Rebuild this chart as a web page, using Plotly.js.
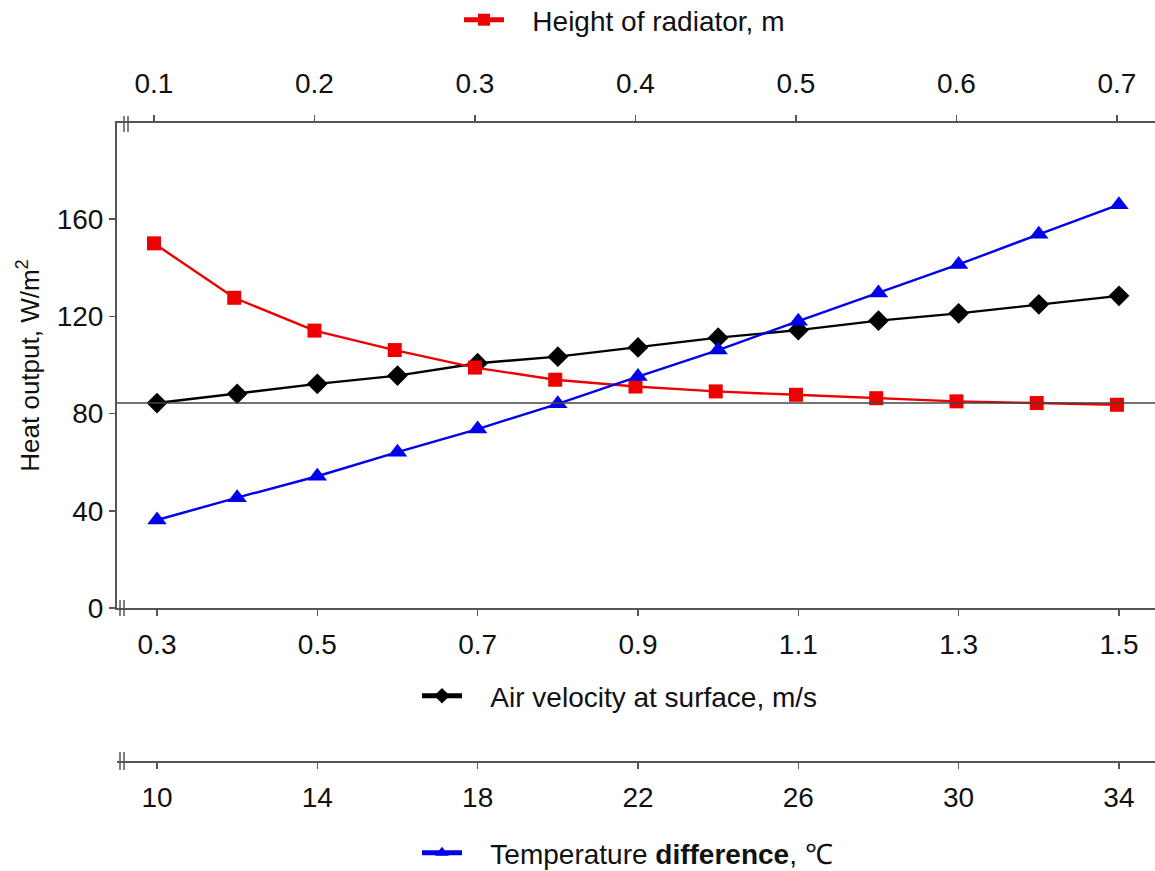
<!DOCTYPE html>
<html>
<head>
<meta charset="utf-8">
<script src="https://cdn.plot.ly/plotly-3.0.1.min.js"></script>
<style>html,body{margin:0;padding:0;background:#fff;}#chart{width:1155px;height:871px;}</style>
</head>
<body>
<div id="chart"></div>
<script>
// Height of radiator, m (top axis)
const heightX = [0.1, 0.15, 0.2, 0.25, 0.3, 0.35, 0.4, 0.45, 0.5, 0.55, 0.6, 0.65, 0.7];
const heightY = [150, 127.6, 114.1, 106.1, 98.9, 93.9, 91.1, 89.1, 87.7, 86.3, 85.0, 84.3, 83.6];
// Air velocity at surface, m/s (bottom axis)
const velocityX = [0.3, 0.4, 0.5, 0.6, 0.7, 0.8, 0.9, 1.0, 1.1, 1.2, 1.3, 1.4, 1.5];
const velocityY = [84.3, 88.1, 92.2, 95.6, 100.7, 103.4, 107.2, 111.2, 114.3, 118.2, 121.2, 124.9, 128.4];
// Temperature difference, C (third axis)
const tempX = [10, 12, 14, 16, 18, 20, 22, 24, 26, 28, 30, 32, 34];
const tempY = [36.2, 45.4, 54.2, 64.1, 73.6, 84.0, 95.2, 106.1, 118.0, 129.6, 141.3, 153.7, 165.9];
// Reference level line
const refLevel = 84.3;

const velocityTicks = [0.3, 0.5, 0.7, 0.9, 1.1, 1.3, 1.5];
const heightTicks = [0.1, 0.2, 0.3, 0.4, 0.5, 0.6, 0.7];
const tempTicks = [10, 14, 18, 22, 26, 30, 34];
const yTicks = [0, 40, 80, 120, 160];

const FONT = 'Liberation Sans, Arial, sans-serif';
const TXT = '#111';
const AX = '#555';
const FS = 28;
const PAD = '\u00A0\u00A0\u00A0';

const traces = [
  {x: velocityX, y: velocityY, xaxis: 'x', yaxis: 'y', mode: 'lines+markers',
   name: PAD + 'Air velocity at surface, m/s', legend: 'legend2',
   line: {color: '#000', width: 2.4}, marker: {symbol: 'diamond', size: 16, color: '#000'}},
  {x: tempX, y: tempY, xaxis: 'x3', yaxis: 'y', mode: 'lines+markers',
   name: PAD + 'Temperature <b>difference</b>, ℃', legend: 'legend3',
   line: {color: '#0000ee', width: 2.4}, marker: {symbol: 'triangle-up', size: 17, color: '#0000ee'}},
  {x: heightX, y: heightY, xaxis: 'x2', yaxis: 'y', mode: 'lines+markers',
   name: PAD + 'Height of radiator, m', legend: 'legend',
   line: {color: '#ee0000', width: 2.4}, marker: {symbol: 'square', size: 14, color: '#ee0000'}}
];

function px2x(p){ return (p - 117) / 1038; }
function py2y(p){ return (762 - p) / 639; }

const breakShapes = [];
[[124, 116, 132], [120, 600, 616], [120, 752, 770]].forEach(function(b){
  [0, 4].forEach(function(d){
    breakShapes.push({type: 'line', xref: 'paper', yref: 'paper',
      x0: px2x(b[0] + d), x1: px2x(b[0] + d), y0: py2y(b[1]), y1: py2y(b[2]),
      line: {color: AX, width: 1.5}});
  });
});

const legendBase = {
  font: {family: FONT, size: FS, color: TXT},
  bgcolor: 'rgba(0,0,0,0)', borderwidth: 0, orientation: 'h',
  xanchor: 'left', yanchor: 'middle', itemwidth: 40, itemsizing: 'constant'
};

const tickFont = {family: FONT, size: FS, color: TXT};

const layout = {
  width: 1155, height: 871,
  margin: {l: 117, r: 0, t: 123, b: 109, autoexpand: false},
  paper_bgcolor: '#fff', plot_bgcolor: '#fff',
  font: {family: FONT, size: FS, color: TXT},
  showlegend: true,
  xaxis: {
    range: [0.2501, 1.5449], tickvals: velocityTicks, ticktext: velocityTicks.map(v => v.toFixed(1)),
    anchor: 'y', side: 'bottom', showline: true, linecolor: AX, linewidth: 2,
    ticks: 'outside', ticklen: 6, tickwidth: 1.5, tickcolor: AX, showgrid: false, zeroline: false,
    tickfont: tickFont, ticklabelstandoff: 4, automargin: false
  },
  xaxis2: {
    range: [0.07695, 0.7237], tickvals: heightTicks, ticktext: heightTicks.map(v => v.toFixed(1)),
    overlaying: 'x', anchor: 'y', side: 'top', showline: true, linecolor: AX, linewidth: 2,
    ticks: 'outside', ticklen: 6, tickwidth: 1.5, tickcolor: AX, showgrid: false, zeroline: false,
    tickfont: tickFont, ticklabelstandoff: 11, automargin: false
  },
  xaxis3: {
    range: [9.002, 34.9], tickvals: tempTicks, ticktext: tempTicks.map(String),
    overlaying: 'x', anchor: 'free', position: 0, side: 'bottom', showline: true, linecolor: AX, linewidth: 2,
    ticks: 'outside', ticklen: 6, tickwidth: 1.5, tickcolor: AX, showgrid: false, zeroline: false,
    tickfont: tickFont, ticklabelstandoff: 4, automargin: false
  },
  yaxis: {
    range: [0, 199.5], domain: [0.241, 1], tickvals: yTicks, ticktext: yTicks.map(String),
    showline: true, linecolor: AX, linewidth: 2,
    ticks: 'outside', ticklen: 6, tickwidth: 1.5, tickcolor: AX, showgrid: false, zeroline: false,
    tickfont: tickFont, automargin: false,
    title: {text: 'Heat output, W/m<sup>2</sup>', font: {family: FONT, size: 26, color: TXT}, standoff: 10}
  },
  shapes: [
    {type: 'line', xref: 'paper', yref: 'y', x0: 0, x1: 1, y0: refLevel, y1: refLevel,
     line: {color: '#444', width: 1.5}}
  ].concat(breakShapes),
  legend: Object.assign({}, legendBase, {x: px2x(459), y: py2y(20)}),
  legend2: Object.assign({}, legendBase, {x: px2x(417), y: py2y(696)}),
  legend3: Object.assign({}, legendBase, {x: px2x(417), y: py2y(853)})
};

Plotly.newPlot('chart', traces, layout, {displayModeBar: false, staticPlot: true});
</script>
</body>
</html>
